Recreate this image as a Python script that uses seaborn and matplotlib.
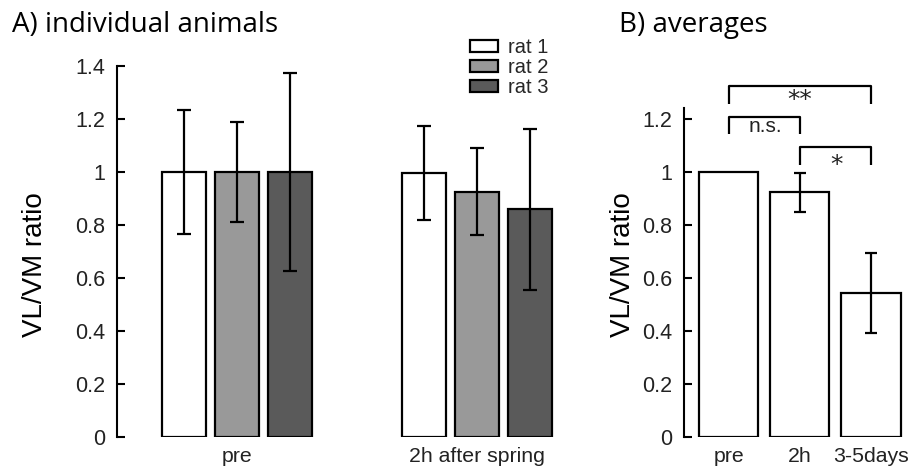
import matplotlib
matplotlib.use('Agg')
import matplotlib.pyplot as plt
import numpy as np
import pandas as pd
import seaborn as sns

sns.set_theme(style='white')
plt.rcParams['font.family'] = ['Liberation Sans', 'DejaVu Sans']
plt.rcParams['ytick.direction'] = 'in'

# Panel A: individual animals
conditions_a = ['pre', '2h after spring']
rats = ['rat 1', 'rat 2', 'rat 3']
rat1_mean = [1.0, 0.997]
rat1_err = [0.235, 0.177]
rat2_mean = [1.0, 0.925]
rat2_err = [0.19, 0.164]
rat3_mean = [1.0, 0.859]
rat3_err = [0.373, 0.303]
rat_colors = ['#ffffff', '#999999', '#5a5a5a']

# Panel B: averages
groups_b = ['pre', '2h', '3-5days']
mean_b = [1.0, 0.924, 0.543]
err_b = [0.0, 0.074, 0.15]
# (x0, x1, top, end, label, label_x, label_y)
brackets = [
    (0, 2, 1.325, 1.258, '**', 1.0, 1.245),
    (0, 1, 1.208, 1.144, 'n.s.', 0.52, 1.151),
    (1, 2, 1.096, 1.028, '*', 1.52, 1.0),
]

yticks = [0, 0.2, 0.4, 0.6, 0.8, 1, 1.2, 1.4]
TICK_COLOR = '#222222'

df_a = pd.DataFrame({
    'condition': conditions_a * 3,
    'rat': [r for r in rats for _ in conditions_a],
    'ratio': rat1_mean + rat2_mean + rat3_mean,
})
errs_a = [rat1_err, rat2_err, rat3_err]

W, H = 909, 471
fig = plt.figure(figsize=(W / 100, H / 100), dpi=100)
ax_a = fig.add_axes([117 / W, 34 / H, 456 / W, 371 / H])
ax_b = fig.add_axes([684 / W, 34 / H, 219 / W, 371 / H])


def style_axis(ax, ticks):
    sns.despine(ax=ax, bottom=True)
    ax.set_ylim(0, 1.4)
    ax.set_yticks(ticks)
    ax.set_yticklabels([f'{t:g}' for t in ticks])
    ax.spines['left'].set_linewidth(1.5)
    ax.spines['left'].set_color('black')
    ax.tick_params(axis='y', direction='in', length=6, width=1.5, color='black',
                   pad=8.5, labelsize=15.5, labelcolor=TICK_COLOR, left=True)
    ax.tick_params(axis='x', length=0, pad=7, labelsize=15.3, labelcolor=TICK_COLOR)
    ax.set_xlabel('')
    ax.set_ylabel('')


# ---- A
sns.barplot(data=df_a, x='condition', y='ratio', hue='rat', hue_order=rats,
            palette=rat_colors, width=0.667, gap=0.175, errorbar=None,
            edgecolor='black', linewidth=1.6, saturation=1, legend=False, ax=ax_a)
for cont, err in zip(ax_a.containers, errs_a):
    xs = [p.get_x() + p.get_width() / 2 for p in cont.patches]
    hs = [p.get_height() for p in cont.patches]
    ax_a.errorbar(xs, hs, yerr=err, fmt='none', ecolor='black', elinewidth=1.6,
                  capsize=5, capthick=1.6, zorder=5)
ax_a.set_xlim(-0.5, 1.4)
style_axis(ax_a, yticks)
ax_a.legend(ax_a.containers, rats, loc='upper left', frameon=False,
            bbox_to_anchor=(470 / W, 1 - 38 / H), bbox_transform=fig.transFigure,
            borderpad=0, borderaxespad=0, fontsize=14.5, handlelength=1.4,
            handleheight=0.55, handletextpad=0.5, labelspacing=0.05)

# ---- B
sns.barplot(x=groups_b, y=mean_b, color='white', width=0.83, errorbar=None,
            edgecolor='black', linewidth=1.6, saturation=1, ax=ax_b)
bars_b = ax_b.containers[0].patches
for p, e in zip(bars_b, err_b):
    if e > 0:
        ax_b.errorbar(p.get_x() + p.get_width() / 2, p.get_height(), yerr=e,
                      fmt='none', ecolor='black', elinewidth=1.6, capsize=4.5,
                      capthick=1.6, zorder=5)
ax_b.set_xlim(-0.63, 2.45)
style_axis(ax_b, yticks[:-1])
ax_b.spines['left'].set_bounds(0, 1.24)
for x0, x1, top, end, lab, lx, ly in brackets:
    ax_b.plot([x0, x0, x1, x1], [end, top, top, end], color='black', lw=1.6,
              clip_on=False, solid_capstyle='butt')
    if '*' in lab:
        ax_b.text(lx, ly, lab, ha='center', va='baseline', fontsize=18,
                  family='DejaVu Sans', color=TICK_COLOR, clip_on=False)
    else:
        ax_b.text(lx, ly, lab, ha='center', va='baseline', fontsize=15,
                  color=TICK_COLOR, clip_on=False)

# titles and y labels
fig.text(12 / W, 1 - 32 / H, 'A) individual animals', fontsize=20, ha='left',
         va='baseline', color='black', family=['Open Sans', 'DejaVu Sans'])
fig.text(619 / W, 1 - 32 / H, 'B) averages', fontsize=20, ha='left', va='baseline',
         color='black', family=['Open Sans', 'DejaVu Sans'])
fig.text(35 / W, 1 - 265 / H, 'VL/VM ratio', fontsize=20, rotation=90,
         ha='center', va='center', color='black')
fig.text(623 / W, 1 - 265 / H, 'VL/VM ratio', fontsize=20, rotation=90,
         ha='center', va='center', color='black')

fig.savefig('out.png', dpi=100)
